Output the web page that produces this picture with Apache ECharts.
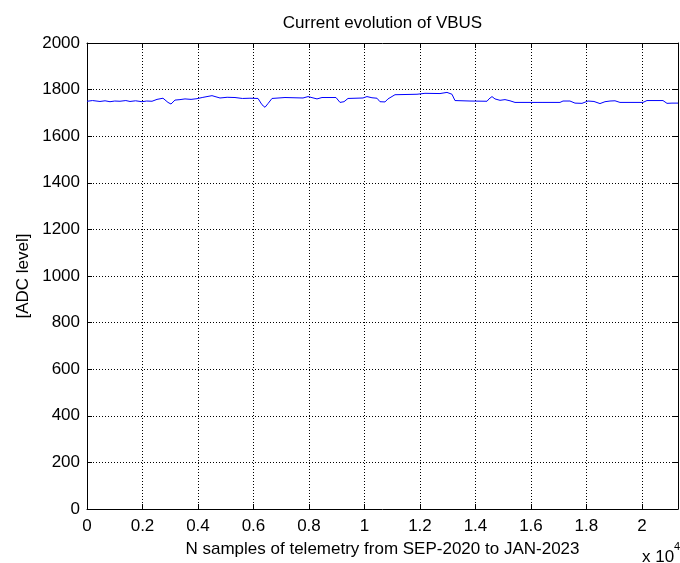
<!DOCTYPE html>
<html>
<head>
<meta charset="utf-8">
<script src="https://cdn.jsdelivr.net/npm/echarts@6/dist/echarts.min.js"></script>
<style>
html,body{margin:0;padding:0;background:#fff;}
#chart{width:680px;height:563px;}
</style>
</head>
<body>
<div id="chart"></div>
<script>
// ---- data ----
const chartTitle = 'Current evolution of VBUS';
const xAxisTitle = 'N samples of telemetry from SEP-2020 to JAN-2023';
const yAxisTitle = '[ADC level]';
const xTickLabels = ['0','0.2','0.4','0.6','0.8','1','1.2','1.4','1.6','1.8','2'];
const yTickLabels = ['0','200','400','600','800','1000','1200','1400','1600','1800','2000'];
const sampleIdx = [0,200,468,650,829,1000,1189,1400,1550,1750,1982,2150,2343,2523,2739,2919,3027,3171,3350,3532,3750,3964,4150,4325,4505,4793,5050,5334,5600,5874,5946,6163,6307,6415,6523,6667,7136,7785,7965,8289,8469,8974,9118,9262,9406,9947,10091,10271,10451,10559,10740,10848,11100,11893,12181,12722,12974,13046,13154,13262,13803,14416,14488,14596,14704,14885,15065,15245,15425,16254,16326,16434,17047,17155,17407,17587,17839,18056,18272,18488,18668,18849,19029,19209,20038,20182,20759,20903,21083,21300];
const vbusLevel = [1750,1753,1749,1752,1748,1751,1750,1753,1749,1752,1748,1751,1750,1758,1763,1745,1738,1755,1757,1760,1758,1761,1766,1770,1774,1764,1767,1766,1762,1763,1770,1762,1735,1724,1740,1762,1766,1764,1770,1760,1766,1766,1745,1748,1762,1764,1770,1765,1763,1748,1747,1760,1778,1780,1784,1783,1788,1791,1780,1753,1751,1750,1760,1770,1760,1754,1757,1752,1745,1745,1751,1745,1745,1751,1751,1742,1741,1751,1749,1740,1748,1751,1752,1745,1745,1753,1753,1741,1742,1742];
const xMax = 21300;

// ---- chart ----
const FONT = 'Liberation Sans, Arial, sans-serif';
const FS = 17;
const chart = echarts.init(document.getElementById('chart'), null, {renderer: 'canvas'});
const gridLeft = 87, gridTop = 43, gridRight = 2, gridBottom = 54;
const plotCX = gridLeft + (680 - gridLeft - gridRight) / 2;
const plotCY = gridTop + (563 - gridTop - gridBottom) / 2;
const dotted = {color: '#000', width: 1, type: [1, 2]};

chart.setOption({
  animation: false,
  backgroundColor: '#fff',
  grid: {left: gridLeft, top: gridTop, right: gridRight, bottom: gridBottom, containLabel: false},
  xAxis: [{
    type: 'value', min: 0, max: xMax, interval: 2000, position: 'bottom',
    axisLine: {show: true, onZero: false, lineStyle: {color: '#000', width: 1}},
    axisTick: {show: true, inside: true, length: 5, lineStyle: {color: '#000'}},
    axisLabel: {show: true, margin: 9, color: '#000', fontFamily: FONT, fontSize: FS,
      showMaxLabel: false,
      formatter: v => { const i = Math.round(v / 2000); return (Math.abs(v - i * 2000) < 1e-6 && i < xTickLabels.length) ? xTickLabels[i] : ''; }},
    splitLine: {show: true, lineStyle: dotted}
  }, {
    type: 'value', min: 0, max: xMax, interval: 2000, position: 'top',
    axisLine: {show: true, onZero: false, lineStyle: {color: '#000', width: 1}},
    axisTick: {show: true, inside: true, length: 5, lineStyle: {color: '#000'}},
    axisLabel: {show: false}, splitLine: {show: false}
  }],
  yAxis: [{
    type: 'value', min: 0, max: 2000, interval: 200, position: 'left',
    axisLine: {show: true, onZero: false, lineStyle: {color: '#000', width: 1}},
    axisTick: {show: true, inside: true, length: 5, lineStyle: {color: '#000'}},
    axisLabel: {show: true, margin: 7, color: '#000', fontFamily: FONT, fontSize: FS,
      formatter: v => yTickLabels[Math.round(v / 200)]},
    splitLine: {show: true, lineStyle: dotted}
  }, {
    type: 'value', min: 0, max: 2000, interval: 200, position: 'right',
    axisLine: {show: true, onZero: false, lineStyle: {color: '#000', width: 1}},
    axisTick: {show: true, inside: true, length: 5, lineStyle: {color: '#000'}},
    axisLabel: {show: false}, splitLine: {show: false}
  }],
  series: [{
    type: 'line', xAxisIndex: 0, yAxisIndex: 0,
    data: sampleIdx.map((n, i) => [n, vbusLevel[i]]),
    showSymbol: false, symbol: 'none',
    lineStyle: {color: '#0000ff', width: 1},
    itemStyle: {color: '#0000ff'}
  }],
  graphic: [
    {type: 'text', x: plotCX, y: 23, style: {text: chartTitle, fill: '#000', font: FS + 'px ' + FONT, textAlign: 'center', textVerticalAlign: 'middle'}},
    {type: 'text', x: plotCX, y: 549, style: {text: xAxisTitle, fill: '#000', font: FS + 'px ' + FONT, textAlign: 'center', textVerticalAlign: 'middle'}},
    {type: 'text', x: 23, y: plotCY, rotation: Math.PI / 2, style: {text: yAxisTitle, fill: '#000', font: FS + 'px ' + FONT, textAlign: 'center', textVerticalAlign: 'middle'}},
    {type: 'text', x: 642, y: 557, style: {text: 'x 10', fill: '#000', font: FS + 'px ' + FONT, textAlign: 'left', textVerticalAlign: 'middle'}},
    {type: 'text', x: 674, y: 547, style: {text: '4', fill: '#000', font: '11px ' + FONT, textAlign: 'left', textVerticalAlign: 'middle'}}
  ]
});
</script>
</body>
</html>
